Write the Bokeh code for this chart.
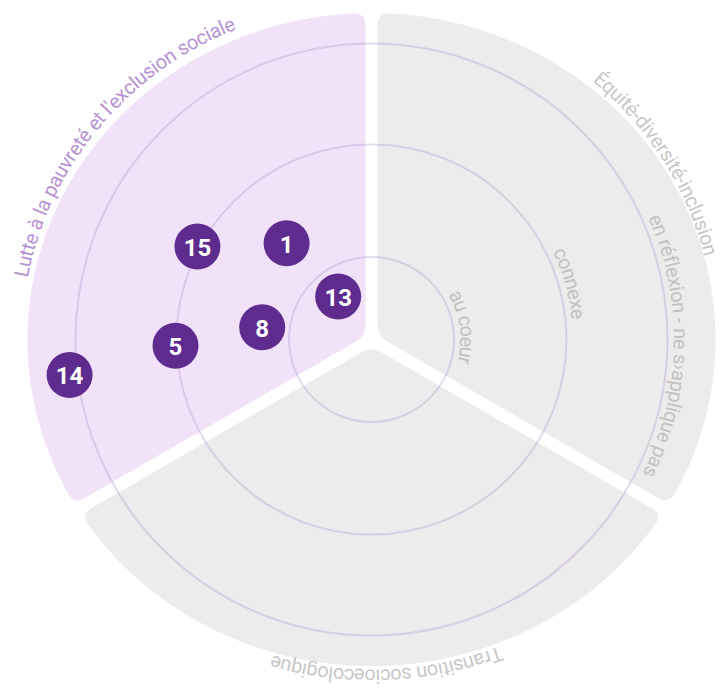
import numpy as np
from bokeh.plotting import figure
from bokeh.core.properties import value
from bokeh.embed import file_html
from bokeh.resources import INLINE

# ---------------- data ----------------
sector_names = ["Lutte à la pauvreté et l'exclusion sociale",
                "Transition socioecologique",
                "Équité-diversité-inclusion"]
sector_start = [90, 210, -30]      # degrees, counter-clockwise
sector_end = [210, 330, 90]
sector_fill = ["#f1e2f9", "#ececec", "#ececec"]
sector_label_color = ["#b893d3", "#c8c8c8", "#c8c8c8"]
sector_label_center = [142.3, 272.6, 31.2]   # polar angle of label centre
sector_label_inset = [0.0, 0.0, 6.0]         # horizontal pull-in of the label path

ring_labels = ["au coeur", "connexe", "en réflexion - ne s›applique pas"]
ring_radius = [82.5, 195, 296]
ring_label_start = [30.3, 25.8, 23.7]

point_ids = ["1", "15", "13", "8", "5", "14"]
point_radius = [128.4, 197.3, 54.4, 110.0, 196.1, 304.0]
point_angle = [131.4, 151.9, 127.8, 173.6, 181.8, 186.7]

# ---------------- geometry / style ----------------
A_OUT, B_OUT = 344.0, 326.5     # outer edge of the sectors
A_TXT, B_TXT, DY_TXT = 356.0, 340.4, 3.3   # path of the sector labels (glyph centres)
RING_TXT_PAD = 13.5
GAP = 6.0
T_IN, T_OUT = 12.0, 12.0
W_PX, H_PX = 724, 688
CX, CY = 371.0, 339.0           # centre, in page pixels
X0, X1 = -CX, W_PX - CX
Y1 = CY
Y0 = CY - H_PX
SCALE = 1.0

CHAR_W = {'a': .544, 'b': .548, 'c': .511, 'd': .550, 'e': .517, 'f': .347, 'g': .549,
          'h': .538, 'i': .237, 'j': .237, 'k': .495, 'l': .237, 'm': .855, 'n': .539,
          'o': .557, 'p': .547, 'q': .551, 'r': .331, 's': .504, 't': .319, 'u': .538,
          'v': .473, 'w': .733, 'x': .484, 'y': .462, 'z': .484, ' ': .248, '-': .270,
          "'": .170, '›': .300, 'à': .544, 'é': .517, 'É': .518, 'L': .525, 'T': .596}


def bez(p0, p1, p2, n=14):
    t = np.linspace(0, 1, n)[:, None]
    return (1 - t) ** 2 * p0 + 2 * (1 - t) * t * p1 + t ** 2 * p2


def sector_shape(t1, t2):
    a1, a2 = np.radians(t1), np.radians(t2)
    u1 = np.array([np.cos(a1), np.sin(a1)])
    n1 = np.array([-np.sin(a1), np.cos(a1)])
    u2 = np.array([np.cos(a2), np.sin(a2)])
    n2 = np.array([np.sin(a2), -np.cos(a2)])
    half = (a2 - a1) / 2
    mid = (a1 + a2) / 2
    v0 = GAP / np.sin(half) * np.array([np.cos(mid), np.sin(mid)])

    def hit(n, u):
        p0 = GAP * n
        qa = (u[0] / A_OUT) ** 2 + (u[1] / B_OUT) ** 2
        qb = 2 * (p0[0] * u[0] / A_OUT ** 2 + p0[1] * u[1] / B_OUT ** 2)
        qc = (p0[0] / A_OUT) ** 2 + (p0[1] / B_OUT) ** 2 - 1
        s = (-qb + np.sqrt(qb * qb - 4 * qa * qc)) / (2 * qa)
        return p0 + s * u

    v1, v2 = hit(n1, u1), hit(n2, u2)
    f1 = np.arctan2(v1[1] / B_OUT, v1[0] / A_OUT)
    f2 = np.arctan2(v2[1] / B_OUT, v2[0] / A_OUT)
    while f2 <= f1:
        f2 += 2 * np.pi
    phi = np.linspace(f1, f2, 1500)
    arc = np.column_stack([A_OUT * np.cos(phi), B_OUT * np.sin(phi)])
    cum = np.concatenate([[0], np.cumsum(np.hypot(*np.diff(arc, axis=0).T))])
    i_d = np.searchsorted(cum, T_OUT)
    i_e = np.searchsorted(cum, cum[-1] - T_OUT)
    pts = []
    pts.append(bez(v0 + T_IN * u2, v0, v0 + T_IN * u1))
    pts.append(bez(v1 - T_OUT * u1, v1, arc[i_d]))
    pts.append(arc[i_d:i_e + 1])
    pts.append(bez(arc[i_e], v2, v2 - T_OUT * u2))
    poly = np.vstack(pts)
    return poly[:, 0], poly[:, 1]


def curved_text(p, s, a, b, anchor_deg, size_px, color, anchor="start", dy=0.0):
    """Place the characters of s along a clockwise elliptical path (tops outward)."""
    ref = anchor_deg + 100
    al = np.radians(ref)
    phi0 = np.arctan2(a * np.sin(al), b * np.cos(al))
    phi = phi0 - np.linspace(0, np.radians(300), 9000)
    x = a * np.cos(phi)
    y = b * np.sin(phi) + dy
    cum = np.concatenate([[0], np.cumsum(np.hypot(np.diff(x), np.diff(y)))])
    pol = np.unwrap(np.arctan2(y - dy, x))
    rel = pol[0] - pol
    ang = np.unwrap(np.arctan2(-b * np.cos(phi), a * np.sin(phi)))
    widths = np.array([CHAR_W.get(c, 0.55) for c in s]) * size_px / SCALE
    total = widths.sum()
    l_anchor = np.interp(np.radians(100), rel, cum)
    start = l_anchor - (total / 2 if anchor == "middle" else 0)
    centers = start + np.cumsum(widths) - widths / 2
    keep = [i for i, c in enumerate(s) if c != " "]
    xs = np.interp(centers, cum, x)[keep]
    ys = np.interp(centers, cum, y)[keep]
    angs = np.interp(centers, cum, ang)[keep]
    p.text(x=list(xs), y=list(ys), text=[s[i] for i in keep], angle=list(angs),
           text_font=value("Roboto"), text_font_size=value(f"{size_px}px"),
           text_color=color, text_align="center", text_baseline="middle")


p = figure(width=W_PX, height=H_PX, x_range=(X0, X1), y_range=(Y0, Y1),
           output_backend="svg", toolbar_location=None, min_border=0,
           x_axis_location=None, y_axis_location=None)
p.grid.visible = False
p.outline_line_color = None
p.background_fill_color = "white"
p.border_fill_color = "white"

# sectors
xs_list, ys_list = [], []
for t1, t2 in zip(sector_start, sector_end):
    sx, sy = sector_shape(t1, t2)
    xs_list.append(list(sx))
    ys_list.append(list(sy))
p.patches(xs=xs_list, ys=ys_list, fill_color=sector_fill, line_color=None)

# rings
p.circle(x=[0] * len(ring_radius), y=[0] * len(ring_radius), radius=ring_radius,
         fill_color=None, line_color="#b89ad0", line_alpha=0.38, line_width=2)

# ring labels
for lab, r, st in zip(ring_labels, ring_radius, ring_label_start):
    rr = r + RING_TXT_PAD
    curved_text(p, lab, rr, rr, st, 20, "#c2c2c2", anchor="start")

# sector labels
for lab, c, col, ins in zip(sector_names, sector_label_center, sector_label_color,
                            sector_label_inset):
    curved_text(p, lab, A_TXT - ins, B_TXT, c, 20, col, anchor="middle", dy=DY_TXT)

# points
px = [r * np.cos(np.radians(a)) for r, a in zip(point_radius, point_angle)]
py = [r * np.sin(np.radians(a)) for r, a in zip(point_radius, point_angle)]
p.circle(x=px, y=py, radius=23, fill_color="#5e2b8e", line_color=None)
p.text(x=px, y=py, text=point_ids, text_align="center", text_baseline="middle",
       y_offset=1, text_font=value("Roboto"), text_font_size=value("24px"),
       text_font_style="bold", text_color="white")

open("out.html", "w").write(file_html(p, INLINE))
